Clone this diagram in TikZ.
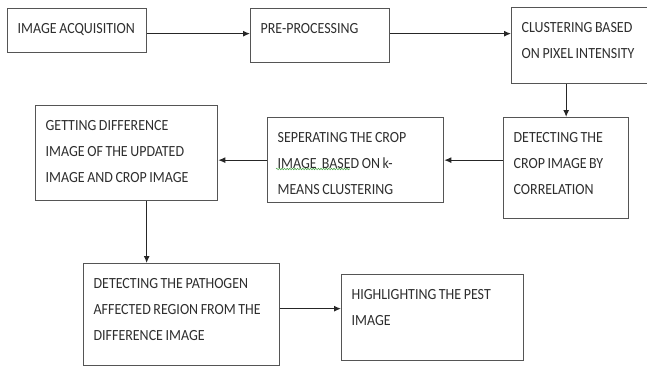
\documentclass[tikz,border=0pt]{standalone}
\usepackage{fontspec}
\setmainfont{Carlito}[FakeStretch=0.9]
\usepackage{tikz}
\usetikzlibrary{calc, arrows.meta, decorations.pathmorphing}
\definecolor{boxgray}{HTML}{555555}
\definecolor{txtgray}{HTML}{2E2E2E}
\definecolor{spellgreen}{HTML}{4CA64C}
\hyphenpenalty=10000

\begin{document}
\begin{tikzpicture}[x=1pt, y=-1pt,
	stage/.style={draw=boxgray, line width=1.3pt, rectangle, anchor=north west, align=left,
	inner xsep=10pt, inner ysep=0pt, text height=25pt, text=txtgray,
	font=\fontsize{15.5pt}{26pt}\selectfont,
	execute at begin node={\spaceskip=2.6pt plus 1pt minus 0.5pt\relax}},
	flow/.style={draw=black!85, line width=1.1pt, -{Latex[length=7pt,width=6pt]}}]
	\useasboundingbox (0,0) rectangle (647,367);
%	top row
	\node[stage, text width=119pt, text depth=19pt] (acq) at (7,8) {IMAGE ACQUISITION};
	\node[stage, text width=119pt, text depth=29pt] (pre) at (250,8) {PRE-PROCESSING};
	\node[stage, text width=119pt, text depth=51pt] (clus) at (511,7) {CLUSTERING BASED\\ON PIXEL INTENSITY};
%	middle row
	\node[stage, text width=105pt, text depth=76pt] (det) at (503,117) {DETECTING THE\\CROP IMAGE BY\\CORRELATION};
	\node[stage, text width=156pt, text depth=60pt] (sep) at (267,117) {SEPERATING THE CROP\\IMAGE\ \ BASED ON k-\\MEANS CLUSTERING};
	\node[stage, text width=162pt, text depth=70pt] (diff) at (35,105) {GETTING DIFFERENCE\\IMAGE OF THE UPDATED\\IMAGE AND CROP IMAGE};
%	bottom row
	\node[stage, text width=176pt, text depth=77pt] (path) at (83,263) {DETECTING THE PATHOGEN\\AFFECTED REGION FROM THE\\DIFFERENCE IMAGE};
	\node[stage, text width=162pt, text depth=61pt] (high) at (341,274) {HIGHLIGHTING THE PEST\\IMAGE};
%	spell-check underline
	\draw[spellgreen, line width=0.6pt, decorate, decoration={snake, amplitude=0.7pt, segment length=2.6pt}] (276,169) -- (350,169);
%	connectors
	\draw[flow] ([yshift=-3pt]acq.east) -- ([yshift=-3pt]acq.east -| pre.west);
	\draw[flow] ([yshift=2pt]pre.east) -- ([yshift=2pt]pre.east -| clus.west);
	\draw[flow] (det.north |- clus.south) -- (det.north);
	\draw[flow] (det.west |- sep.east) -- (sep.east);
	\draw[flow] (sep.west) -- (sep.west -| diff.east);
	\draw[flow] ([xshift=20pt]diff.south) -- ([xshift=20pt]diff.south |- path.north);
	\draw[flow] ([yshift=6pt]path.east) -- ([yshift=6pt]path.east -| high.west);
\end{tikzpicture}
\end{document}
